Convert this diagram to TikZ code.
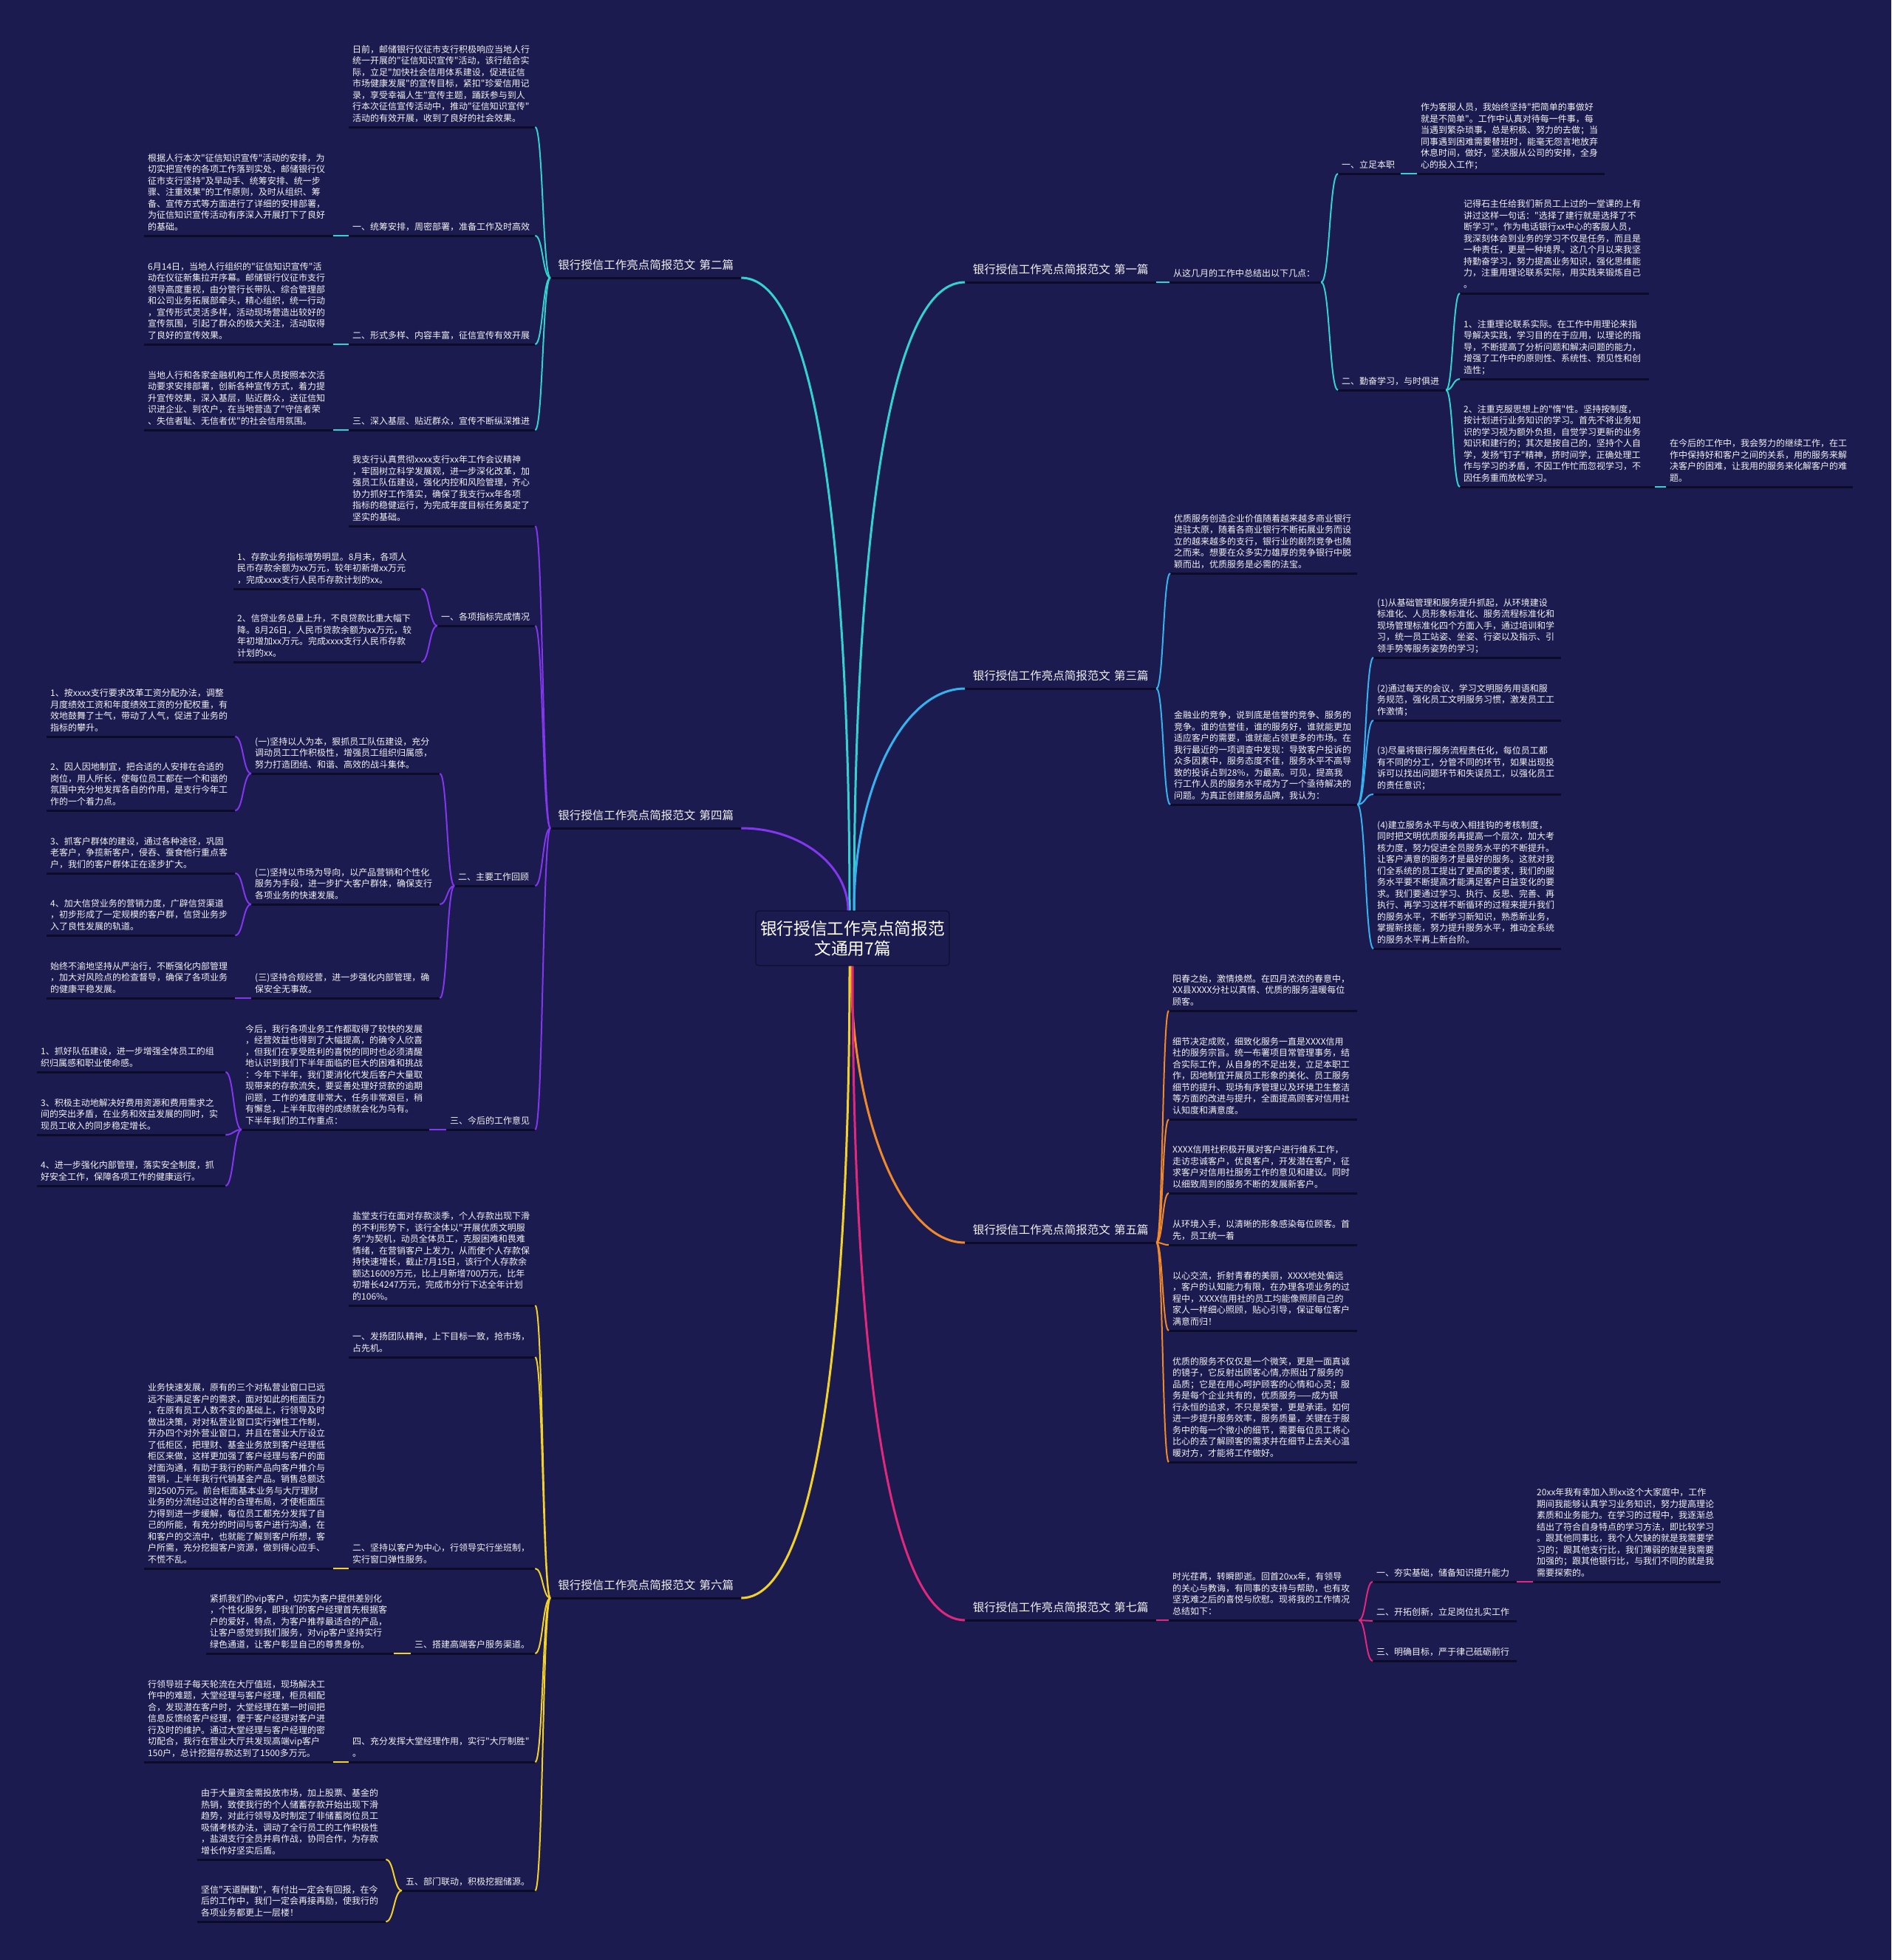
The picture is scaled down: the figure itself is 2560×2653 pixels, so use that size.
\documentclass[tikz,border=0pt]{standalone}
\usepackage{fontspec}
\setmainfont{Noto Sans CJK SC}
\newfontfamily\cjkf{Noto Sans CJK SC}
\usetikzlibrary{calc}
\hyphenpenalty=10000
\exhyphenpenalty=10000
\definecolor{bgc}{HTML}{1C1B50}
\definecolor{ulc}{HTML}{0C0B28}
\definecolor{ctrb}{HTML}{0F0E30}
\definecolor{cyanc}{HTML}{33D1CF}
\definecolor{bluec}{HTML}{35B3F0}
\definecolor{purc}{HTML}{8236EE}
\definecolor{orac}{HTML}{F0892A}
\definecolor{yelc}{HTML}{F2D228}
\definecolor{magc}{HTML}{E1287C}
\definecolor{txtc}{HTML}{F2F2F2}
\tikzset{
  txt/.style={font=\cjkf\fontsize{12}{15.5}\selectfont, text=txtc, align=left, inner xsep=5pt, inner ysep=4.2pt},
  lab/.style={font=\cjkf\fontsize{15.5}{18}\selectfont, text=txtc, align=center, inner xsep=5pt, inner ysep=8.5pt},
  uline/.style={draw=ulc, line width=3pt},
  cn/.style={line width=2pt},
  mn/.style={line width=3pt},
  lto/.style={out=180,in=0,distance=#1},
  rto/.style={out=0,in=180,distance=#1},
  ctrbox/.style={draw=ctrb, fill=bgc, rounded corners=4pt, line width=1.2pt, minimum width=262pt, minimum height=74pt, align=center, text=white, font=\cjkf\fontsize{22.7}{27}\selectfont, inner sep=0pt}
}
\newcommand{\mybox}[5]{%
  \pgfmathsetmacro{\mytw}{#3-#2-10}%
  \node[txt, text width=\mytw pt, anchor=south west] (#1) at (#2,#4) {#5\rule[-3.2pt]{0pt}{0pt}};%
  \draw[uline] (#1.south west) -- (#1.south east);%
}
\newcommand{\mylab}[5]{%
  \pgfmathsetmacro{\mytw}{#3-#2-10}%
  \node[lab, text width=\mytw pt, anchor=south west] (#1) at (#2,#4) {#5\rule[-3.2pt]{0pt}{0pt}};%
  \draw[uline] (#1.south west) -- (#1.south east);%
}
\begin{document}
\begin{tikzpicture}[x=1pt,y=-1pt]
\fill[bgc] (0,0) rectangle (2560,2653);
\useasboundingbox (0,0) rectangle (2560,2653);

\node[ctrbox] (ctr) at (1154,1270) {银行授信工作亮点简报范\\文通用7篇};

% ---------- 第二篇 ----------
\mylab{L2}{745}{1003}{376}{银行授信工作亮点简报范文 第二篇}
\mybox{A1}{472}{724}{172}{日前，邮储银行仪征市支行积极响应当地人行\\统一开展的"征信知识宣传"活动，该行结合实\\际，立足"加快社会信用体系建设，促进征信\\市场健康发展"的宣传目标，紧扣"珍爱信用记\\录，享受幸福人生"宣传主题，踊跃参与到人\\行本次征信宣传活动中，推动"征信知识宣传"\\活动的有效开展，收到了良好的社会效果。}
\mybox{A2}{472}{724}{319}{一、统筹安排，周密部署，准备工作及时高效}
\mybox{A2c}{195}{451}{319}{根据人行本次"征信知识宣传"活动的安排，为\\切实把宣传的各项工作落到实处，邮储银行仪\\征市支行坚持"及早动手、统筹安排、统一步\\骤、注重效果"的工作原则，及时从组织、筹\\备、宣传方式等方面进行了详细的安排部署，\\为征信知识宣传活动有序深入开展打下了良好\\的基础。}
\mybox{A3}{472}{724}{466}{二、形式多样、内容丰富，征信宣传有效开展}
\mybox{A3c}{195}{451}{466}{6月14日，当地人行组织的"征信知识宣传"活\\动在仪征新集拉开序幕。邮储银行仪征市支行\\领导高度重视，由分管行长带队、综合管理部\\和公司业务拓展部牵头，精心组织，统一行动\\，宣传形式灵活多样，活动现场营造出较好的\\宣传氛围，引起了群众的极大关注，活动取得\\了良好的宣传效果。}
\mybox{A4}{472}{724}{582}{三、深入基层、贴近群众，宣传不断纵深推进}
\mybox{A4c}{195}{451}{582}{当地人行和各家金融机构工作人员按照本次活\\动要求安排部署，创新各种宣传方式，着力提\\升宣传效果，深入基层，贴近群众，送征信知\\识进企业、到农户，在当地营造了"守信者荣\\、失信者耻、无信者优"的社会信用氛围。}

% ---------- 第四篇 ----------
\mylab{L4}{745}{1003}{1121}{银行授信工作亮点简报范文 第四篇}
\mybox{B1}{472}{724}{712}{我支行认真贯彻xxxx支行xx年工作会议精神\\，牢固树立科学发展观，进一步深化改革，加\\强员工队伍建设，强化内控和风险管理，齐心\\协力抓好工作落实，确保了我支行xx年各项\\指标的稳健运行，为完成年度目标任务奠定了\\坚实的基础。}
\mybox{B2}{592}{724}{847}{一、各项指标完成情况}
\mybox{B2a}{316}{570}{797}{1、存款业务指标增势明显。8月末，各项人\\民币存款余额为xx万元，较年初新增xx万元\\，完成xxxx支行人民币存款计划的xx。}
\mybox{B2b}{316}{570}{896}{2、信贷业务总量上升，不良贷款比重大幅下\\降。8月26日，人民币贷款余额为xx万元，较\\年初增加xx万元。完成xxxx支行人民币存款\\计划的xx。}
\mybox{B3}{615}{724}{1199}{二、主要工作回顾}
\mybox{B3a}{340}{595}{1047}{(一)坚持以人为本，狠抓员工队伍建设，充分\\调动员工工作积极性，增强员工组织归属感，\\努力打造团结、和谐、高效的战斗集体。}
\mybox{B3a1}{63}{318}{997}{1、按xxxx支行要求改革工资分配办法，调整\\月度绩效工资和年度绩效工资的分配权重，有\\效地鼓舞了士气，带动了人气，促进了业务的\\指标的攀升。}
\mybox{B3a2}{63}{318}{1097}{2、因人因地制宜，把合适的人安排在合适的\\岗位，用人所长，使每位员工都在一个和谐的\\氛围中充分地发挥各自的作用，是支行今年工\\作的一个着力点。}
\mybox{B3b}{340}{595}{1224}{(二)坚持以市场为导向，以产品营销和个性化\\服务为手段，进一步扩大客户群体，确保支行\\各项业务的快速发展。}
\mybox{B3b1}{63}{318}{1182}{3、抓客户群体的建设，通过各种途径，巩固\\老客户，争揽新客户，侵吞、蚕食他行重点客\\户，我们的客户群体正在逐步扩大。}
\mybox{B3b2}{63}{318}{1266}{4、加大信贷业务的营销力度，广辟信贷渠道\\，初步形成了一定规模的客户群，信贷业务步\\入了良性发展的轨道。}
\mybox{B3c}{340}{595}{1351}{(三)坚持合规经营，进一步强化内部管理，确\\保安全无事故。}
\mybox{B3c1}{63}{318}{1351}{始终不渝地坚持从严治行，不断强化内部管理\\，加大对风险点的检查督导，确保了各项业务\\的健康平稳发展。}
\mybox{B4}{604}{724}{1529}{三、今后的工作意见}
\mybox{B4a}{327}{581}{1529}{今后，我行各项业务工作都取得了较快的发展\\，经营效益也得到了大幅提高，的确令人欣喜\\，但我们在享受胜利的喜悦的同时也必须清醒\\地认识到我们下半年面临的巨大的困难和挑战\\：今年下半年，我们要消化代发后客户大量取\\现带来的存款流失，要妥善处理好贷款的逾期\\问题，工作的难度非常大，任务非常艰巨，稍\\有懈怠，上半年取得的成绩就会化为乌有。\\下半年我们的工作重点：}
\mybox{B4a1}{50}{305}{1451}{1、抓好队伍建设，进一步增强全体员工的组\\织归属感和职业使命感。}
\mybox{B4a3}{50}{305}{1536}{3、积极主动地解决好费用资源和费用需求之\\间的突出矛盾，在业务和效益发展的同时，实\\现员工收入的同步稳定增长。}
\mybox{B4a4}{50}{305}{1605}{4、进一步强化内部管理，落实安全制度，抓\\好安全工作，保障各项工作的健康运行。}

% ---------- 第六篇 ----------
\mylab{L6}{745}{1003}{2163}{银行授信工作亮点简报范文 第六篇}
\mybox{G1}{472}{724}{1767}{盐堂支行在面对存款淡季，个人存款出现下滑\\的不利形势下，该行全体以"开展优质文明服\\务"为契机，动员全体员工，克服困难和畏难\\情绪，在营销客户上发力，从而使个人存款保\\持快速增长，截止7月15日，该行个人存款余\\额达16009万元，比上月新增700万元，比年\\初增长4247万元，完成市分行下达全年计划\\的106\%。}
\mybox{G2}{472}{724}{1837}{一、发扬团队精神，上下目标一致，抢市场，\\占先机。}
\mybox{G3}{472}{724}{2123}{二、坚持以客户为中心，行领导实行坐班制，\\实行窗口弹性服务。}
\mybox{G3a}{195}{451}{2123}{业务快速发展，原有的三个对私营业窗口已远\\远不能满足客户的需求，面对如此的柜面压力\\，在原有员工人数不变的基础上，行领导及时\\做出决策，对对私营业窗口实行弹性工作制，\\开办四个对外营业窗口，并且在营业大厅设立\\了低柜区，把理财、基金业务放到客户经理低\\柜区来做，这样更加强了客户经理与客户的面\\对面沟通，有助于我行的新产品向客户推介与\\营销，上半年我行代销基金产品。销售总额达\\到2500万元。前台柜面基本业务与大厅理财\\业务的分流经过这样的合理布局，才使柜面压\\力得到进一步缓解，每位员工都充分发挥了自\\己的所能，有充分的时间与客户进行沟通，在\\和客户的交流中，也就能了解到客户所想，客\\户所需，充分挖掘客户资源，做到得心应手、\\不慌不乱。}
\mybox{G4}{556}{724}{2238}{三、搭建高端客户服务渠道。}
\mybox{G4a}{279}{533}{2238}{紧抓我们的vip客户，切实为客户提供差别化\\，个性化服务，即我们的客户经理首先根据客\\户的爱好，特点，为客户推荐最适合的产品，\\让客户感觉到我们服务，对vip客户坚持实行\\绿色通道，让客户彰显自己的尊贵身份。}
\mybox{G5}{472}{724}{2385}{四、充分发挥大堂经理作用，实行"大厅制胜"\\。}
\mybox{G5a}{195}{451}{2385}{行领导班子每天轮流在大厅值班，现场解决工\\作中的难题，大堂经理与客户经理，柜员相配\\合，发现潜在客户时，大堂经理在第一时间把\\信息反馈给客户经理，便于客户经理对客户进\\行及时的维护。通过大堂经理与客户经理的密\\切配合，我行在营业大厅共发现高端vip客户\\150户，总计挖掘存款达到了1500多万元。}
\mybox{G6}{544}{724}{2559}{五、部门联动，积极挖掘储源。}
\mybox{G6a}{267}{522}{2517}{由于大量资金需投放市场，加上股票、基金的\\热销，致使我行的个人储蓄存款开始出现下滑\\趋势，对此行领导及时制定了非储蓄岗位员工\\吸储考核办法，调动了全行员工的工作积极性\\，盐湖支行全员并肩作战，协同合作，为存款\\增长作好坚实后盾。}
\mybox{G6b}{267}{522}{2601}{坚信"天道酬勤"，有付出一定会有回报，在今\\后的工作中，我们一定会再接再励，使我行的\\各项业务都更上一层楼！}

% ---------- 第一篇 ----------
\mylab{L1}{1306}{1565}{382}{银行授信工作亮点简报范文 第一篇}
\mybox{C1}{1583}{1788}{382}{从这几月的工作中总结出以下几点：}
\mybox{C2}{1811}{1896}{235}{一、立足本职}
\mybox{C2a}{1918}{2172}{235}{作为客服人员，我始终坚持"把简单的事做好\\就是不简单"。工作中认真对待每一件事，每\\当遇到繁杂琐事，总是积极、努力的去做；当\\同事遇到困难需要替班时，能毫无怨言地放弃\\休息时间，做好，坚决服从公司的安排，全身\\心的投入工作；}
\mybox{C3}{1811}{1957}{528}{二、勤奋学习，与时俱进}
\mybox{C3a}{1976}{2232}{397}{记得石主任给我们新员工上过的一堂课的上有\\讲过这样一句话："选择了建行就是选择了不\\断学习"。作为电话银行xx中心的客服人员，\\我深刻体会到业务的学习不仅是任务，而且是\\一种责任，更是一种境界。这几个月以来我坚\\持勤奋学习，努力提高业务知识，强化思维能\\力，注重用理论联系实际，用实践来锻炼自己\\。}
\mybox{C3b}{1976}{2232}{513}{1、注重理论联系实际。在工作中用理论来指\\导解决实践，学习目的在于应用，以理论的指\\导，不断提高了分析问题和解决问题的能力，\\增强了工作中的原则性、系统性、预见性和创\\造性；}
\mybox{C3c}{1976}{2240}{659}{2、注重克服思想上的"惰"性。坚持按制度，\\按计划进行业务知识的学习。首先不将业务知\\识的学习视为额外负担，自觉学习更新的业务\\知识和建行的；其次是按自己的，坚持个人自\\学，发扬"钉子"精神，挤时间学，正确处理工\\作与学习的矛盾，不因工作忙而忽视学习，不\\因任务重而放松学习。}
\mybox{C3c1}{2255}{2508}{659}{在今后的工作中，我会努力的继续工作，在工\\作中保持好和客户之间的关系，用的服务来解\\决客户的困难，让我用的服务来化解客户的难\\题。}

% ---------- 第三篇 ----------
\mylab{L3}{1306}{1565}{932}{银行授信工作亮点简报范文 第三篇}
\mybox{D1}{1584}{1837}{776}{优质服务创造企业价值随着越来越多商业银行\\进驻太原，随着各商业银行不断拓展业务而设\\立的越来越多的支行，银行业的剧烈竞争也随\\之而来。想要在众多实力雄厚的竞争银行中脱\\颖而出，优质服务是必需的法宝。}
\mybox{D2}{1584}{1837}{1089}{金融业的竞争，说到底是信誉的竞争、服务的\\竞争。谁的信誉佳，谁的服务好，谁就能更加\\适应客户的需要，谁就能占领更多的市场。在\\我行最近的一项调查中发现：导致客户投诉的\\众多因素中，服务态度不佳，服务水平不高导\\致的投诉占到28\%，为最高。可见，提高我\\行工作人员的服务水平成为了一个亟待解决的\\问题。为真正创建服务品牌，我认为：}
\mybox{D2a}{1859}{2113}{890}{(1)从基础管理和服务提升抓起，从环境建设\\标准化、人员形象标准化、服务流程标准化和\\现场管理标准化四个方面入手，通过培训和学\\习，统一员工站姿、坐姿、行姿以及指示、引\\领手势等服务姿势的学习；}
\mybox{D2b}{1859}{2113}{975}{(2)通过每天的会议，学习文明服务用语和服\\务规范，强化员工文明服务习惯，激发员工工\\作激情；}
\mybox{D2c}{1859}{2113}{1075}{(3)尽量将银行服务流程责任化，每位员工都\\有不同的分工，分管不同的环节，如果出现投\\诉可以找出问题环节和失误员工，以强化员工\\的责任意识；}
\mybox{D2d}{1859}{2113}{1284}{(4)建立服务水平与收入相挂钩的考核制度，\\同时把文明优质服务再提高一个层次，加大考\\核力度，努力促进全员服务水平的不断提升。\\让客户满意的服务才是最好的服务。这就对我\\们全系统的员工提出了更高的要求，我们的服\\务水平要不断提高才能满足客户日益变化的要\\求。我们要通过学习、执行、反思、完善、再\\执行、再学习这样不断循环的过程来提升我们\\的服务水平，不断学习新知识，熟悉新业务，\\掌握新技能，努力提升服务水平，推动全系统\\的服务水平再上新台阶。}

% ---------- 第五篇 ----------
\mylab{L5}{1306}{1565}{1682}{银行授信工作亮点简报范文 第五篇}
\mybox{E1}{1582}{1837}{1368}{阳春之始，激情焕燃。在四月浓浓的春意中，\\XX县XXXX分社以真情、优质的服务温暖每位\\顾客。}
\mybox{E2}{1582}{1837}{1515}{细节决定成败，细致化服务一直是XXXX信用\\社的服务宗旨。统一布署项目常管理事务，结\\合实际工作，从自身的不足出发，立足本职工\\作，因地制宜开展员工形象的美化、员工服务\\细节的提升、现场有序管理以及环境卫生整洁\\等方面的改进与提升，全面提高顾客对信用社\\认知度和满意度。}
\mybox{E3}{1582}{1837}{1615}{XXXX信用社积极开展对客户进行维系工作，\\走访忠诚客户，优良客户，开发潜在客户，征\\求客户对信用社服务工作的意见和建议。同时\\以细致周到的服务不断的发展新客户。}
\mybox{E4}{1582}{1837}{1685}{从环境入手，以清晰的形象感染每位顾客。首\\先，员工统一着}
\mybox{E5}{1582}{1837}{1801}{以心交流，折射青春的美丽，XXXX地处偏远\\，客户的认知能力有限，在办理各项业务的过\\程中，XXXX信用社的员工均能像照顾自己的\\家人一样细心照顾，贴心引导，保证每位客户\\满意而归！}
\mybox{E6}{1582}{1837}{1979}{优质的服务不仅仅是一个微笑，更是一面真诚\\的镜子，它反射出顾客心情,亦照出了服务的\\品质；它是在用心呵护顾客的心情和心灵；服\\务是每个企业共有的，优质服务——成为银\\行永恒的追求，不只是荣誉，更是承诺。如何\\进一步提升服务效率，服务质量，关键在于服\\务中的每一个微小的细节，需要每位员工将心\\比心的去了解顾客的需求并在细节上去关心温\\暖对方，才能将工作做好。}

% ---------- 第七篇 ----------
\mylab{L7}{1306}{1565}{2193}{银行授信工作亮点简报范文 第七篇}
\mybox{F1}{1582}{1839}{2193}{时光荏苒，转瞬即逝。回首20xx年，有领导\\的关心与教诲，有同事的支持与帮助，也有攻\\坚克难之后的喜悦与欣慰。现将我的工作情况\\总结如下：}
\mybox{F2}{1858}{2053}{2141}{一、夯实基础，储备知识提升能力}
\mybox{F2a}{2075}{2329}{2141}{20xx年我有幸加入到xx这个大家庭中，工作\\期间我能够认真学习业务知识，努力提高理论\\素质和业务能力。在学习的过程中，我逐渐总\\结出了符合自身特点的学习方法，即比较学习\\。跟其他同事比，我个人欠缺的就是我需要学\\习的；跟其他支行比，我们薄弱的就是我需要\\加强的；跟其他银行比，与我们不同的就是我\\需要探索的。}
\mybox{F3}{1858}{2053}{2194}{二、开拓创新，立足岗位扎实工作}
\mybox{F4}{1858}{2053}{2248}{三、明确目标，严于律己砥砺前行}

% ---------- main branches ----------
\draw[mn,cyanc] ([xshift=-4pt]ctr.north) .. controls (1150,847) and (1121,376) .. (L2.south east);
\draw[mn,cyanc] ([xshift=2pt]ctr.north) .. controls (1156,850) and (1186,382) .. (L1.south west);
\draw[mn,bluec] ([xshift=2pt]ctr.north) .. controls (1156,1067) and (1223,932) .. (L3.south west);
\draw[mn,purc] ([xshift=-6pt]ctr.north) .. controls (1148,1171) and (1083,1121) .. (L4.south east);
\draw[mn,orac] ([xshift=-2pt]ctr.south) .. controls (1152,1513) and (1221,1682) .. (L5.south west);
\draw[mn,yelc] ([xshift=-4pt]ctr.south) .. controls (1150,1692) and (1121,2163) .. (L6.south east);
\draw[mn,magc] (ctr.south) .. controls (1154,1706) and (1184,2193) .. (L7.south west);

% ---------- connectors ----------
\foreach \c in {A1,A2,A3,A4} {\draw[cn,cyanc] (L2.south west) to[lto=10.5pt] (\c.south east);}
\draw[cn,cyanc] (A2.south west) to[lto=10pt] (A2c.south east);
\draw[cn,cyanc] (A3.south west) to[lto=10pt] (A3c.south east);
\draw[cn,cyanc] (A4.south west) to[lto=10pt] (A4c.south east);

\foreach \c in {B1,B2,B3,B4} {\draw[cn,purc] (L4.south west) to[lto=10.5pt] (\c.south east);}
\foreach \c in {B2a,B2b} {\draw[cn,purc] (B2.south west) to[lto=11pt] (\c.south east);}
\foreach \c in {B3a,B3b,B3c} {\draw[cn,purc] (B3.south west) to[lto=10pt] (\c.south east);}
\foreach \c in {B3a1,B3a2} {\draw[cn,purc] (B3a.south west) to[lto=11pt] (\c.south east);}
\foreach \c in {B3b1,B3b2} {\draw[cn,purc] (B3b.south west) to[lto=11pt] (\c.south east);}
\draw[cn,purc] (B3c.south west) to[lto=11pt] (B3c1.south east);
\draw[cn,purc] (B4.south west) to[lto=11pt] (B4a.south east);
\foreach \c in {B4a1,B4a3,B4a4} {\draw[cn,purc] (B4a.south west) to[lto=11pt] (\c.south east);}

\foreach \c in {G1,G2,G3,G4,G5,G6} {\draw[cn,yelc] (L6.south west) to[lto=10.5pt] (\c.south east);}
\draw[cn,yelc] (G3.south west) to[lto=10pt] (G3a.south east);
\draw[cn,yelc] (G4.south west) to[lto=11pt] (G4a.south east);
\draw[cn,yelc] (G5.south west) to[lto=10pt] (G5a.south east);
\foreach \c in {G6a,G6b} {\draw[cn,yelc] (G6.south west) to[lto=11pt] (\c.south east);}

\draw[cn,cyanc] (L1.south east) to[rto=9pt] (C1.south west);
\foreach \c in {C2,C3} {\draw[cn,cyanc] (C1.south east) to[rto=11.5pt] (\c.south west);}
\draw[cn,cyanc] (C2.south east) to[rto=11pt] (C2a.south west);
\foreach \c in {C3a,C3b,C3c} {\draw[cn,cyanc] (C3.south east) to[rto=9.5pt] (\c.south west);}
\draw[cn,cyanc] (C3c.south east) to[rto=7.5pt] (C3c1.south west);

\foreach \c in {D1,D2} {\draw[cn,bluec] (L3.south east) to[rto=9.5pt] (\c.south west);}
\foreach \c in {D2a,D2b,D2c,D2d} {\draw[cn,bluec] (D2.south east) to[rto=11pt] (\c.south west);}

\foreach \c in {E1,E2,E3,E4,E5,E6} {\draw[cn,orac] (L5.south east) to[rto=8.5pt] (\c.south west);}

\draw[cn,magc] (L7.south east) to[rto=8.5pt] (F1.south west);
\foreach \c in {F2,F3,F4} {\draw[cn,magc] (F1.south east) to[rto=9.5pt] (\c.south west);}
\draw[cn,magc] (F2.south east) to[rto=11pt] (F2a.south west);
\end{tikzpicture}
\end{document}
